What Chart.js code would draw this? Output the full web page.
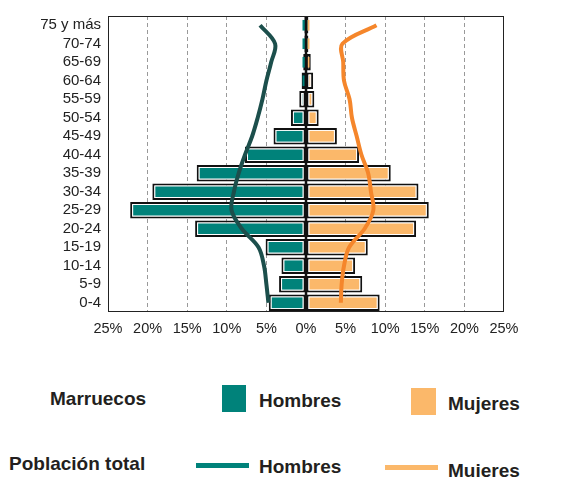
<!DOCTYPE html>
<html>
<head>
<meta charset="utf-8">
<script src="https://cdn.jsdelivr.net/npm/chart.js@4/dist/chart.umd.min.js"></script>
<style>
  html, body { margin: 0; padding: 0; background: #fff; }
  body { width: 578px; height: 477px; position: relative; overflow: hidden; font-family: "Liberation Sans", Arial, sans-serif; }
  #wrap { position: absolute; left: 0; top: 0; width: 578px; height: 345px; }
  .lg { position: absolute; font-weight: bold; font-size: 19px; color: #231f20; white-space: nowrap; line-height: 1; }
  .sw { position: absolute; }
</style>
</head>
<body>
<div id="wrap"><canvas id="c" width="578" height="345"></canvas></div>

<div class="lg" style="left:50px; top:389px;">Marruecos</div>
<div class="sw" style="left:222px; top:385px; width:24px; height:27px; background:#00827a;"></div>
<div class="lg" style="left:259px; top:391px;">Hombres</div>
<div class="sw" style="left:411px; top:388px; width:25px; height:27px; background:#fbb86a;"></div>
<div class="lg" style="left:448px; top:394px;">Mujeres</div>

<div class="lg" style="left:9px; top:454px;">Población total</div>
<div class="sw" style="left:196px; top:463px; width:53px; height:5px; background:#00827a;"></div>
<div class="lg" style="left:259px; top:457px;">Hombres</div>
<div class="sw" style="left:385px; top:465px; width:53px; height:5px; background:#fbb86a;"></div>
<div class="lg" style="left:448px; top:461px;">Mujeres</div>

<script>
// Age groups, top to bottom as drawn
const ageGroups = ["75 y más","70-74","65-69","60-64","55-59","50-54","45-49","40-44","35-39","30-34","25-29","20-24","15-19","10-14","5-9","0-4"];

// Marruecos (% of population), men drawn to the left
const marruecosHombres = [-0.2,-0.2,-0.35,-0.55,-0.85,-1.9,-4.1,-7.7,-13.8,-19.4,-22.2,-14.0,-5.1,-3.1,-3.4,-4.7];
const marruecosMujeres = [0.3,0.3,0.6,0.9,1.05,1.6,3.9,6.7,10.7,14.2,15.5,13.9,7.8,6.2,7.1,9.3];

// Población total (% of population)
const totalHombres = [-5.8,-3.9,-4.4,-5.0,-5.5,-6.1,-6.8,-7.7,-8.5,-9.1,-9.4,-8.1,-6.0,-5.3,-5.0,-4.75];
const totalMujeres = [8.9,4.6,4.7,4.8,5.5,5.8,6.4,7.0,7.85,8.2,8.5,7.4,5.45,4.8,4.5,4.4];

// X tick values
const xTicks = [-25,-20,-15,-10,-5,0,5,10,15,20,25];

const FONT = '"Liberation Sans", Arial, sans-serif';

const framePlugin = {
  id: 'frame',
  afterDatasetsDraw(chart) {
    const {ctx, chartArea: a, scales: {x}} = chart;
    ctx.save();
    const x0 = x.getPixelForValue(0);
    ctx.strokeStyle = '#111';
    ctx.lineWidth = 2.5;
    ctx.beginPath();
    ctx.moveTo(x0, a.top);
    ctx.lineTo(x0, a.bottom);
    ctx.stroke();
    ctx.restore();
  },
  afterDraw(chart) {
    const {ctx, chartArea: a} = chart;
    ctx.save();
    ctx.strokeStyle = '#222';
    ctx.lineWidth = 1;
    ctx.strokeRect(Math.round(a.left) + 0.5, Math.round(a.top) + 0.5, Math.round(a.right - a.left) - 1, Math.round(a.bottom - a.top) - 1);
    ctx.restore();
  }
};

const outline = { type: 'bar', backgroundColor: '#fff', borderColor: '#111', borderWidth: 2, borderSkipped: false, barPercentage: 0.9, categoryPercentage: 1, grouped: false, inflateAmount: 0 };
const fill = { type: 'bar', borderWidth: 0, barPercentage: 0.9, categoryPercentage: 1, grouped: false, inflateAmount: -3 };

new Chart(document.getElementById('c'), {
  type: 'bar',
  data: {
    labels: ageGroups,
    datasets: [
      { label: 'Total Hombres', type: 'line', data: totalHombres, borderColor: '#1c4f4c', borderWidth: 4, pointRadius: 0, tension: 0.35, fill: false, order: 0 },
      { label: 'Total Mujeres', type: 'line', data: totalMujeres, borderColor: '#f5862b', borderWidth: 4, pointRadius: 0, tension: 0.35, fill: false, order: 0 },
      Object.assign({}, fill, { label: 'Hombres', data: marruecosHombres, backgroundColor: '#00827a', order: 1 }),
      Object.assign({}, fill, { label: 'Mujeres', data: marruecosMujeres, backgroundColor: '#fbb86a', order: 1 }),
      Object.assign({}, outline, { label: 'Hombres borde', data: marruecosHombres, order: 2 }),
      Object.assign({}, outline, { label: 'Mujeres borde', data: marruecosMujeres, order: 2 })
    ]
  },
  options: {
    indexAxis: 'y',
    responsive: false,
    animation: false,
    layout: { padding: { top: 16, right: 74, bottom: 0, left: 0 } },
    plugins: { legend: { display: false }, tooltip: { enabled: false } },
    scales: {
      x: {
        type: 'linear',
        min: -25, max: 25,
        afterBuildTicks(scale) { scale.ticks = xTicks.map(v => ({ value: v })); },
        afterFit(scale) { scale.height = 33; },
        ticks: { color: '#222', font: { family: FONT, size: 14.5 }, padding: 8, callback: v => Math.abs(v) + '%' },
        grid: {
          drawTicks: false,
          color: ctx => (ctx.tick && (ctx.tick.value === 0 || Math.abs(ctx.tick.value) === 25)) ? 'rgba(0,0,0,0)' : '#999',
          lineWidth: 1
        },
        border: { display: false, dash: [4, 3] }
      },
      y: {
        type: 'category',
        afterFit(scale) { scale.width = 108; },
        ticks: { color: '#222', font: { family: FONT, size: 15 }, padding: 7, autoSkip: false },
        grid: { display: false, drawTicks: false },
        border: { display: false }
      }
    }
  },
  plugins: [framePlugin]
});
</script>
</body>
</html>
